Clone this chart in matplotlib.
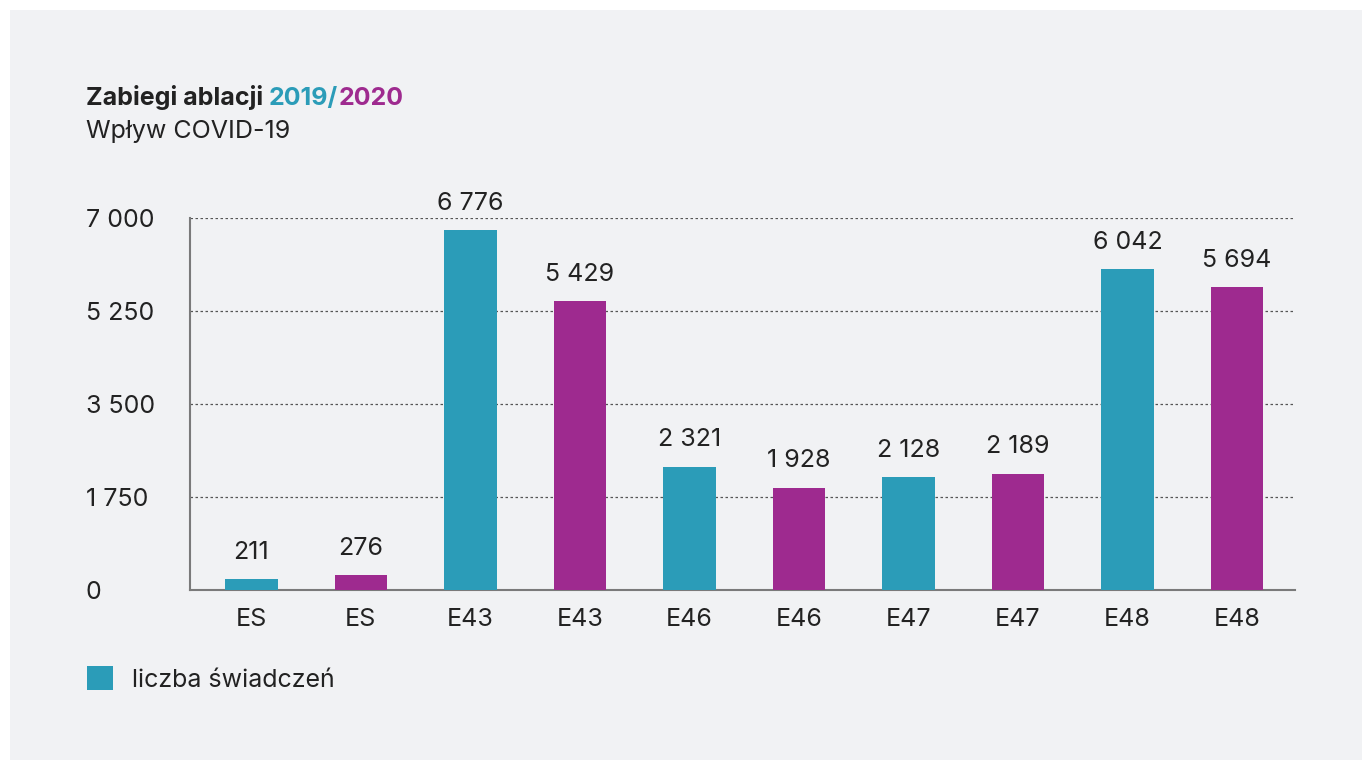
import matplotlib.pyplot as plt
from matplotlib.patches import Patch, Rectangle

# dane
kategorie = ["ES", "ES", "E43", "E43", "E46", "E46", "E47", "E47", "E48", "E48"]
wartosci = [211, 276, 6776, 5429, 2321, 1928, 2128, 2189, 6042, 5694]
lata = [2019, 2020, 2019, 2020, 2019, 2020, 2019, 2020, 2019, 2020]
y_ticki = [0, 1750, 3500, 5250, 7000]

TEAL = "#2b9cb8"
PURPLE = "#9e2a8f"
TXT = "#222222"
BG = "#f1f2f4"

plt.rcParams['font.family'] = ['Inter', 'DejaVu Sans']

def fmt(v):
    return f"{v:,}".replace(",", " ")

fig = plt.figure(figsize=(13.62, 7.6), dpi=100, facecolor="white")
fig.patches.append(Rectangle((10 / 1362, 0), 1 - 10 / 1362, 1 - 10 / 760,
                             transform=fig.transFigure, facecolor=BG,
                             edgecolor="none", zorder=-10))

ax = fig.add_axes([190 / 1362, 1 - 590 / 760, (1295 - 190) / 1362, (590 - 218) / 760])
ax.set_facecolor(BG)

kolory = [TEAL if r == 2019 else PURPLE for r in lata]
x = list(range(len(kategorie)))
bars = ax.bar(x, wartosci, width=0.48, color=kolory, zorder=3)

for b, v in zip(bars, wartosci):
    ax.annotate(fmt(v), (b.get_x() + b.get_width() / 2, b.get_height()),
                xytext=(0, 11), textcoords="offset points", ha="center",
                va="bottom", fontsize=18, color=TXT)

ax.set_xlim(-0.56, 9.53)
ax.set_ylim(0, 7000)
ax.set_xticks(x)
ax.set_xticklabels(kategorie, fontsize=18, color=TXT)
ax.set_yticks(y_ticki)
ax.set_yticklabels([fmt(t) for t in y_ticki], fontsize=18, color=TXT, ha="left")
ax.tick_params(axis="y", length=0, pad=75)
ax.tick_params(axis="x", length=0, pad=13)

for t in y_ticki[1:]:
    ax.axhline(t, color="#555555", lw=0.9, ls=(0, (2, 2)), zorder=1)

for s in ["top", "right"]:
    ax.spines[s].set_visible(False)
for s in ["left", "bottom"]:
    ax.spines[s].set_color("#7a7a7a")
    ax.spines[s].set_linewidth(1.5)

# tytuł z kolorowymi latami
fig.canvas.draw()
r = fig.canvas.get_renderer()
xpos = 86
for tekst, kol in [("Zabiegi ablacji ", TXT), ("2019/", TEAL), ("2020", PURPLE)]:
    t = fig.text(xpos / 1362, 1 - 105 / 760, tekst, fontsize=18, fontweight="bold",
                 color=kol, ha="left", va="baseline")
    xpos += t.get_window_extent(renderer=r).width
fig.text(86 / 1362, 1 - 138 / 760, "Wpływ COVID-19", fontsize=18, color=TXT,
         ha="left", va="baseline")

fig.legend(handles=[Patch(facecolor=TEAL, edgecolor="none", label="liczba świadczeń")],
           loc="center left", bbox_to_anchor=(64 / 1362, 1 - 679 / 760),
           frameon=False, fontsize=18, labelcolor=TXT, handlelength=1.05,
           handleheight=1.05, handletextpad=0.75)

fig.savefig("out.png", dpi=100, facecolor=fig.get_facecolor())
